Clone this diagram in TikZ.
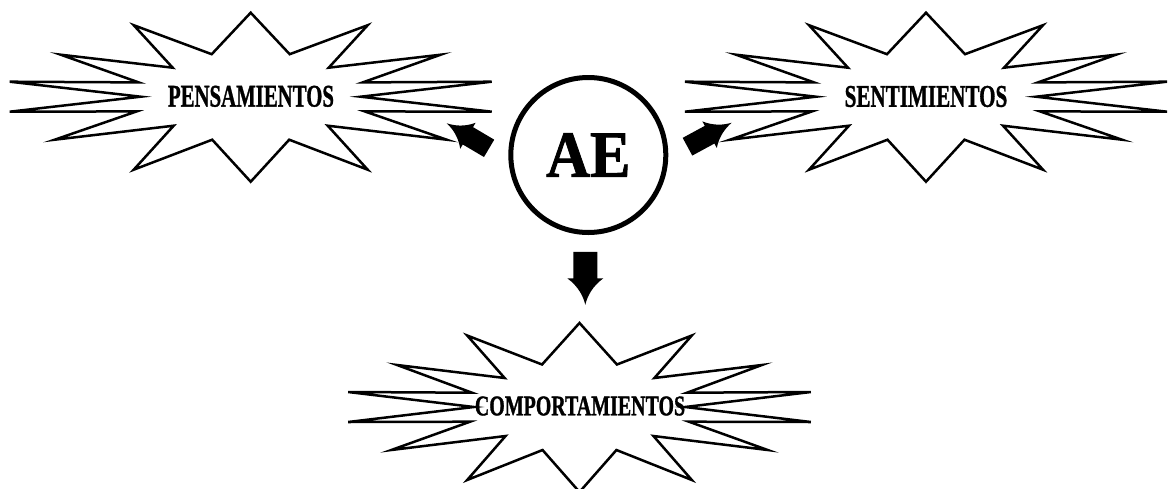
\documentclass[tikz,border=0pt]{standalone}
\usepackage{fontspec}
\setmainfont{Liberation Serif}
\newfontfamily\lblfont{Liberation Serif Bold}[FakeBold=1.3]
\begin{document}
\begin{tikzpicture}[x=1pt,y=-1pt,
  starline/.style={draw=black, line width=2.5pt, line join=miter, fill=white},
  lbl/.style={font=\fontsize{31.5}{31.5}\selectfont\lblfont, inner sep=0pt},
  burst/.pic={\path[starline] (0,-84) -- (39,-42.5) -- (117,-71.5) -- (78,-29) -- (190,-42) -- (112,-14.3) -- (241,-15) -- (110,0) -- (241,15) -- (114,14.7) -- (196,43) -- (77,29) -- (117,73) -- (38.5,43) -- (0,85) -- (-38.5,43) -- (-117,73) -- (-77,29) -- (-196,43) -- (-114,14.7) -- (-241,15) -- (-110,0) -- (-241,-15) -- (-112,-14.3) -- (-190,-42) -- (-78,-29) -- (-117,-71.5) -- (-39,-42.5) -- cycle;},
  blockarr/.pic={\fill[black] (-26.5,-12) -- (0,-12) -- (0,-18) .. controls (8,-7) and (18,-2) .. (26.5,0) .. controls (18,2) and (8,7) .. (0,18) -- (0,12) -- (-26.5,12) -- cycle;}
]
\useasboundingbox (0,0) rectangle (1171,488);
\clip (0,0) rectangle (1171,488);
% star centres
\coordinate (cpens) at (250.7,96.7);
\coordinate (csent) at (926,96.7);
\coordinate (ccomp) at (579.5,407);
\pic at (cpens) {burst};
\pic at (csent) {burst};
\pic[xscale=0.96] at (ccomp) {burst};
% labels
\node[lbl] (pens) at (251,96.3) {\scalebox{0.66}[1]{PENSAMIENTOS}};
\node[lbl] (sent) at (926,96.5) {\scalebox{0.67}[1]{SENTIMIENTOS}};
\node[lbl, font=\fontsize{28.5}{28.5}\selectfont\lblfont] (comp) at (580,406) {\scalebox{0.70}[1]{COMPORTAMIENTOS}};
% central circle
\node[circle, draw, line width=5pt, minimum size=155pt, inner sep=0pt,
      font=\fontsize{66}{66}\selectfont\lblfont] (ae) at (588.3,155) {\scalebox{0.92}[1]{AE}};
% block arrows
\coordinate (arrL) at (467.9,135.8);
\coordinate (arrR) at (709.6,134.7);
\coordinate (arrD) at (585.3,278.3);
\pic[rotate=149.4, xscale=0.93, yscale=0.84] at (arrL) {blockarr};
\pic[rotate=28.5, xscale=0.95, yscale=0.84] at (arrR) {blockarr};
\pic[rotate=-90] at (arrD) {blockarr};
\end{tikzpicture}
\end{document}
